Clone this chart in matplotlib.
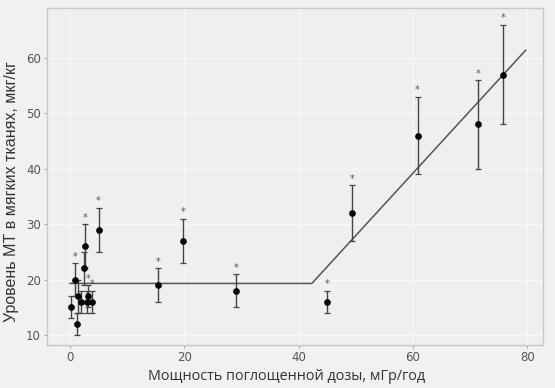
import matplotlib.pyplot as plt
import numpy as np

# Мощность дозы (мГр/год), уровень МТ (мкг/кг), погрешность, звёздочка
dose = [0.2, 0.9, 1.2, 1.4, 2.0, 2.6, 2.5, 3.2, 2.9, 3.8, 5.0,
        15.4, 19.8, 29.0, 44.9, 49.3, 60.8, 71.4, 75.8]
level = [15, 20, 12, 17, 16, 26, 22, 17, 16, 16, 29,
         19, 27, 18, 16, 32, 46, 48, 57]
err = [2, 3, 2, 3, 2, 4, 3, 2, 2, 2, 4,
       3, 4, 3, 2, 5, 7, 8, 9]
star = [0, 1, 0, 0, 0, 1, 0, 1, 0, 1, 1,
        1, 1, 1, 1, 1, 1, 1, 1]

# кусочно-линейная модель
fit_x = [0, 42.3, 79.7]
fit_y = [19.3, 19.3, 61.4]

fig = plt.figure(figsize=(5.55, 3.88), dpi=100)
fig.patch.set_facecolor('#f1f1f1')
ax = fig.add_axes([0.085, 0.111, 0.893, 0.868])
ax.set_facecolor('#efefef')

ax.grid(True, color='#f8f8f8', linewidth=0.8)
ax.set_axisbelow(True)

ax.plot(fit_x, fit_y, color='#555555', linewidth=1.1, zorder=2)
ax.errorbar(dose, level, yerr=err, fmt='o', color='black', ecolor='#444444',
            elinewidth=1.0, capsize=2.5, capthick=0.9, markersize=3.8, zorder=3)

for x, y, e, s in zip(dose, level, err, star):
    if s:
        ax.annotate('*', xy=(x, y + e), xytext=(0, 1), textcoords='offset points',
                    ha='center', va='bottom', fontsize=7, color='#555555')

ax.set_xlim(-4, 82.7)
ax.set_ylim(8.2, 69)
ax.set_xticks([0, 20, 40, 60, 80])
ax.set_yticks([10, 20, 30, 40, 50, 60])

for sp in ax.spines.values():
    sp.set_color('#c8c8c8')
    sp.set_linewidth(1.0)
ax.tick_params(axis='both', length=2.5, width=0.6, color='#999999',
               labelsize=8.5, labelcolor='#555555', pad=2)

ax.set_xlabel('Мощность поглощенной дозы, мГр/год', fontsize=10.4,
              family='Open Sans', color='#333333')
ax.set_ylabel('Уровень МТ в мягких тканях, мкг/кг', fontsize=11.5,
              family='Liberation Sans', color='#333333')
ax.xaxis.set_label_coords(0.484, -0.07)
ax.yaxis.set_label_coords(-0.056, 0.454)

fig.savefig('out.png', dpi=100, facecolor=fig.get_facecolor())
